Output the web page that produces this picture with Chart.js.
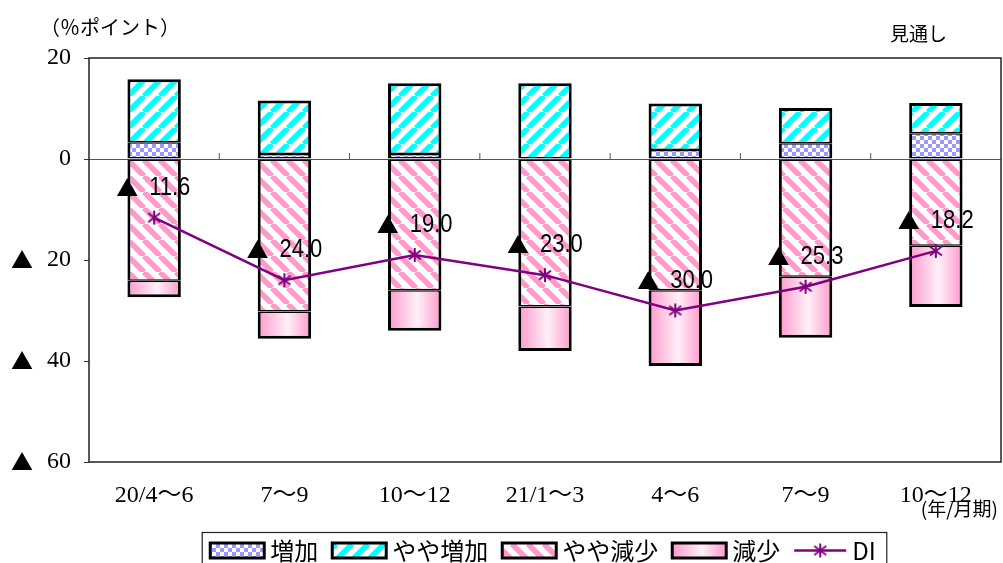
<!DOCTYPE html>
<html>
<head>
<meta charset="utf-8">
<script src="https://cdn.jsdelivr.net/npm/chart.js@4.4.0/dist/chart.umd.min.js"></script>
<style>
  html, body { margin: 0; padding: 0; background: #fff; }
  #wrap { width: 1003px; height: 563px; position: relative; }
</style>
</head>
<body>
<div id="wrap"><canvas id="chart"></canvas></div>
<script>
const periods = ["20/4～6", "7～9", "10～12", "21/1～3", "4～6", "7～9", "10～12"];
const increase = [3.3, 1.0, 1.0, 0, 1.8, 3.1, 5.1];
const slightIncrease = [12.5, 10.6, 14.0, 15.0, 9.2, 7.0, 6.0];
const slightDecrease = [-24.1, -30.2, -26.0, -29.2, -26.0, -23.3, -17.2];
const decrease = [-3.3, -5.4, -8.0, -8.8, -15.0, -12.1, -12.1];
const diValues = [-11.6, -24.0, -19.0, -23.0, -30.0, -25.3, -18.2];
const yMin = -60, yMax = 20, yStep = 20;

const CJK = '"Noto Sans CJK JP", sans-serif';
const SERIF = '"Liberation Serif", "Noto Sans CJK JP", serif';
const PURPLE = "#800080";
const BAR_PCT = 0.41;

// fill patterns
function checkerPattern() {
    const c = document.createElement("canvas");
    c.width = 8; c.height = 8;
    const g = c.getContext("2d");
    g.fillStyle = "#ffffff"; g.fillRect(0, 0, 8, 8);
    g.fillStyle = "#9999ff";
    g.fillRect(0, 0, 4, 4); g.fillRect(4, 4, 4, 4);
    return g.createPattern(c, "repeat");
}

function stripePattern(color, rising, lw) {
    const s = 16;
    const c = document.createElement("canvas");
    c.width = s; c.height = s;
    const g = c.getContext("2d");
    g.fillStyle = "#ffffff"; g.fillRect(0, 0, s, s);
    g.strokeStyle = color;
    g.lineWidth = lw;
    for (let k = -1; k <= 1; k++) {
        g.beginPath();
        if (rising) { g.moveTo(k * s, s); g.lineTo(k * s + s, 0); }
        else { g.moveTo(k * s, 0); g.lineTo(k * s + s, s); }
        g.stroke();
    }
    return g.createPattern(c, "repeat");
}

function fadeGradient(ctx, x0, x1) {
    const g = ctx.createLinearGradient(x0, 0, x1, 0);
    g.addColorStop(0, "#ff99cc");
    g.addColorStop(0.55, "#fff0f8");
    g.addColorStop(1, "#ff99cc");
    return g;
}

function starMarker() {
    const c = document.createElement("canvas");
    c.width = 16; c.height = 16;
    const g = c.getContext("2d");
    g.strokeStyle = PURPLE;
    g.lineWidth = 2;
    g.beginPath();
    g.moveTo(8, 1); g.lineTo(8, 15);
    g.moveTo(2, 3.5); g.lineTo(14, 12.5);
    g.moveTo(2, 12.5); g.lineTo(14, 3.5);
    g.stroke();
    return c;
}

const canvas = document.getElementById("chart");
const checker = checkerPattern();
const cyanStripe = stripePattern("#00ffff", true, 5.5);
const pinkStripe = stripePattern("#ff99cc", false, 5.5);
const star = starMarker();

function decreaseFill(c) {
    const chart = c.chart;
    const xs = chart.scales.x;
    if (!xs || c.dataIndex === undefined) return "#ff99cc";
    const cx = xs.getPixelForValue(c.dataIndex);
    const half = xs.width / periods.length * BAR_PCT / 2;
    if (!isFinite(cx) || !isFinite(half) || half <= 0) return "#ff99cc";
    return fadeGradient(chart.ctx, cx - half, cx + half);
}

// frame, zero line ticks
const framePlugin = {
    id: "frame",
    beforeDatasetsDraw(chart) {
        const { ctx, chartArea: a, scales: { x, y } } = chart;
        ctx.save();
        ctx.strokeStyle = "#222";
        ctx.lineWidth = 1.5;
        ctx.strokeRect(a.left, a.top, a.right - a.left, a.bottom - a.top);
        const y0 = y.getPixelForValue(0);
        ctx.strokeStyle = "#555";
        ctx.lineWidth = 1;
        ctx.beginPath();
        for (let i = 0; i < periods.length - 1; i++) {
            const bx = (x.getPixelForValue(i) + x.getPixelForValue(i + 1)) / 2;
            ctx.moveTo(bx, y0);
            ctx.lineTo(bx, y0 - 6);
        }
        ctx.stroke();
        ctx.restore();
    }
};

// ▲ value labels, texts, legend
const extrasPlugin = {
    id: "extras",
    afterDraw(chart) {
        const ctx = chart.ctx;
        const meta = chart.getDatasetMeta(4);
        ctx.save();
        ctx.fillStyle = "#000";
        meta.data.forEach((pt, i) => {
            const v = diValues[i];
            ctx.font = "22px " + CJK;
            ctx.textAlign = "center";
            ctx.textBaseline = "alphabetic";
            if (v < 0) ctx.fillText("▲", pt.x - 27, pt.y - 22);
            ctx.font = '25px "Liberation Sans", Arial, sans-serif';
            ctx.textAlign = "left";
            const s = Math.abs(v).toFixed(1);
            const w = ctx.measureText(s).width;
            ctx.fillText(s, pt.x - 5, pt.y - 23, w * 0.88);
        });

        // ▲ marks for the negative y tick labels
        const ys = chart.scales.y;
        ctx.font = "22px " + CJK;
        ctx.textAlign = "center";
        ctx.textBaseline = "middle";
        ys.ticks.forEach(t => {
            if (t.value < 0) ctx.fillText("▲", 22, ys.getPixelForValue(t.value));
        });

        ctx.textAlign = "left";
        ctx.font = "20px " + CJK;
        ctx.fillText("（％ポイント）", 40, 27);
        ctx.font = "19px " + CJK;
        ctx.fillText("見通し", 890, 34);
        ctx.font = "19px " + CJK;
        ctx.textAlign = "right";
        ctx.fillText("(年/月期)", 998, 509);

        // legend
        const items = [
            { label: "増加", fill: checker },
            { label: "やや増加", fill: cyanStripe },
            { label: "やや減少", fill: pinkStripe },
            { label: "減少", fill: "fade" },
            { label: "DI", line: true }
        ];
        ctx.font = "24px " + CJK;
        const sw = 54, gapT = 6, gapI = 14;
        const widths = items.map(it => (it.line ? 52 : sw) + gapT + ctx.measureText(it.label).width);
        const total = widths.reduce((s, w) => s + w, 0) + gapI * (items.length - 1);
        let x = 543 - total / 2;
        const ly = 550.5;
        ctx.strokeStyle = "#222";
        ctx.lineWidth = 1.2;
        ctx.strokeRect(x - 8, 532.5, total + 19, 40);
        items.forEach(it => {
            if (it.line) {
                ctx.strokeStyle = PURPLE;
                ctx.lineWidth = 2.5;
                ctx.beginPath();
                ctx.moveTo(x, ly); ctx.lineTo(x + 52, ly);
                ctx.stroke();
                ctx.drawImage(star, x + 26 - 8, ly - 8);
                x += 52 + gapT;
            } else {
                ctx.fillStyle = it.fill === "fade" ? fadeGradient(ctx, x, x + sw) : it.fill;
                ctx.fillRect(x, ly - 7.5, sw, 15);
                ctx.strokeStyle = "#000";
                ctx.lineWidth = 3;
                ctx.strokeRect(x, ly - 7.5, sw, 15);
                x += sw + gapT;
            }
            ctx.fillStyle = "#000";
            ctx.textAlign = "left";
            ctx.textBaseline = "middle";
            ctx.fillText(it.label, x, ly);
            x += ctx.measureText(it.label).width + gapI;
        });
        ctx.restore();
    }
};

const barCommon = {
    type: "bar",
    borderColor: "#000",
    borderSkipped: false,
    barPercentage: BAR_PCT,
    categoryPercentage: 1,
    order: 1
};

new Chart(canvas, {
    data: {
        labels: periods,
        datasets: [
            { ...barCommon, label: "増加", data: increase, backgroundColor: checker,
              borderWidth: { left: 3, right: 3, top: 1.5, bottom: 1.5 } },
            { ...barCommon, label: "やや増加", data: slightIncrease, backgroundColor: cyanStripe,
              borderWidth: { left: 3, right: 3, top: 3, bottom: 1.5 } },
            { ...barCommon, label: "やや減少", data: slightDecrease, backgroundColor: pinkStripe,
              borderWidth: { left: 3, right: 3, top: 1.5, bottom: 1.5 } },
            { ...barCommon, label: "減少", data: decrease, backgroundColor: decreaseFill,
              borderWidth: { left: 3, right: 3, top: 1.5, bottom: 3 } },
            { type: "line", label: "DI", data: diValues, borderColor: PURPLE, borderWidth: 2.5,
              pointStyle: star, pointRadius: 8, tension: 0, order: 0 }
        ]
    },
    options: {
        responsive: true,
        maintainAspectRatio: false,
        animation: false,
        layout: { autoPadding: false, padding: { top: 58, right: 2, left: 0, bottom: 0 } },
        plugins: { legend: { display: false }, tooltip: { enabled: false } },
        scales: {
            x: {
                stacked: true,
                grid: { display: false },
                border: { display: false },
                ticks: { color: "#000", font: { family: SERIF, size: 24 }, padding: 11,
                         autoSkip: false, maxRotation: 0 },
                afterFit: s => { s.height = 101; s.paddingLeft = 0; s.paddingRight = 0; }
            },
            y: {
                stacked: true,
                min: yMin, max: yMax,
                border: { display: false },
                grid: {
                    color: c => (c.tick && c.tick.value === 0) ? "#555" : "rgba(0,0,0,0)",
                    tickColor: "#333", tickLength: 5, drawTicks: true
                },
                ticks: {
                    stepSize: yStep, color: "#000", padding: 13,
                    font: { family: SERIF, size: 24 },
                    callback: v => String(Math.abs(v))
                },
                afterFit: s => { s.width = 89; }
            }
        }
    },
    plugins: [framePlugin, extrasPlugin]
});
</script>
</body>
</html>
